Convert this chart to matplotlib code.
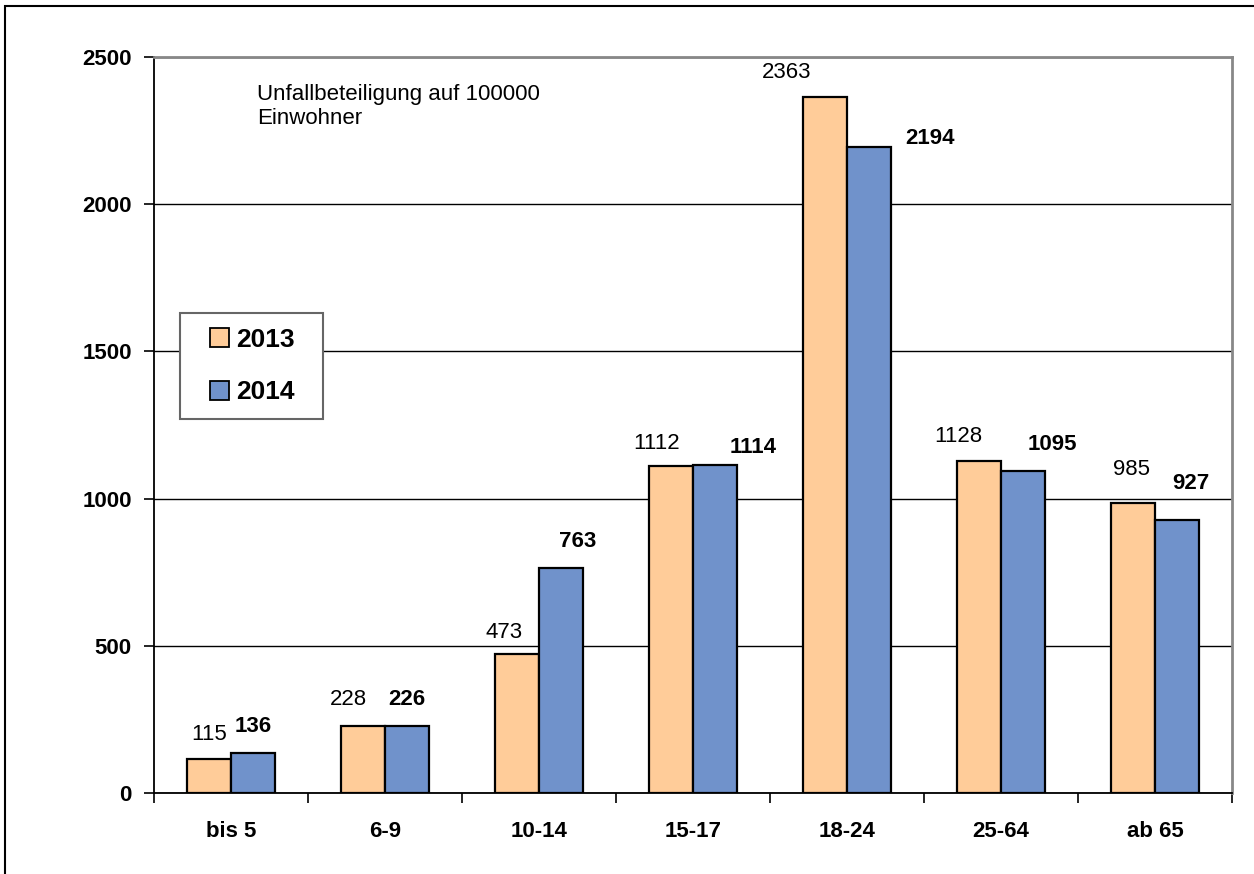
import numpy as np
import matplotlib
matplotlib.use("Agg")
import matplotlib.pyplot as plt
from matplotlib.patches import Rectangle

plt.rcParams['font.family'] = ['Liberation Sans', 'DejaVu Sans']

# data
groups = ['bis 5', '6-9', '10-14', '15-17', '18-24', '25-64', 'ab 65']
v2013 = [115, 228, 473, 1112, 2363, 1128, 985]
v2014 = [136, 226, 763, 1114, 2194, 1095, 927]

# label offsets (pixels) from the top centre of each bar
off2013 = [(0, 25), (-15, 26), (-13, 21), (-14, 22), (-38, 25), (-21, 24), (-2, 34)]
off2014 = [(0, 26), (0, 27), (17, 27), (38, 18), (61, 9), (29, 26), (14, 37)]

c2013 = '#FFCC99'
c2014 = '#7092CB'

fig = plt.figure(figsize=(12.54, 8.74), dpi=100)
ax = fig.add_axes([154/1254, 81/874, 1078/1254, 736/874])

x = np.arange(len(groups))
w = 0.2857
b1 = ax.bar(x - w/2, v2013, w, color=c2013, edgecolor='black', linewidth=1.6, label='2013', zorder=3)
b2 = ax.bar(x + w/2, v2014, w, color=c2014, edgecolor='black', linewidth=1.6, label='2014', zorder=3)

for r, v, o in zip(b1, v2013, off2013):
    ax.annotate(str(v), (r.get_x() + r.get_width()/2, v), xytext=o, textcoords='offset pixels',
                ha='center', va='center', fontsize=16)
for r, v, o in zip(b2, v2014, off2014):
    ax.annotate(str(v), (r.get_x() + r.get_width()/2, v), xytext=o, textcoords='offset pixels',
                ha='center', va='center', fontsize=16, fontweight='bold')

ax.set_xlim(-0.5, len(groups) - 0.5)
ax.set_ylim(0, 2500)
ax.set_yticks(np.arange(0, 2501, 500))
ax.yaxis.grid(True, color='black', linewidth=1.0, zorder=0)
ax.set_axisbelow(True)

# ticks on category boundaries, labels in the middle
ax.set_xticks(np.arange(-0.5, len(groups), 1.0))
ax.set_xticklabels([])
ax.set_xticks(x, minor=True)
ax.set_xticklabels(groups, minor=True, fontsize=16, fontweight='bold')
ax.tick_params(axis='x', which='major', direction='out', length=7, width=1.2)
ax.tick_params(axis='x', which='minor', length=0, pad=20)
ax.tick_params(axis='y', direction='out', length=7, width=1.2, pad=9, labelsize=16)
for t in ax.get_yticklabels():
    t.set_fontweight('bold')

for s in ['left', 'bottom']:
    ax.spines[s].set_color('black')
    ax.spines[s].set_linewidth(1.3)
for s in ['top', 'right']:
    ax.spines[s].set_color('#888888')
    ax.spines[s].set_linewidth(2.0)

ax.text(0.0955, 0.963, 'Unfallbeteiligung auf 100000\nEinwohner', transform=ax.transAxes,
        ha='left', va='top', fontsize=16, linespacing=1.15)

# legend: frame drawn separately so the inner padding can match
ax.add_patch(Rectangle((0.0241, 0.508), 0.1327, 0.144, transform=ax.transAxes,
                       facecolor='white', edgecolor='#666666', linewidth=1.5, zorder=4))
leg = ax.legend(loc='center left', bbox_to_anchor=(0.052, 0.580), frameon=False,
                prop={'weight': 'bold', 'size': 19}, handlelength=0.72, handleheight=0.72,
                handletextpad=0.27, labelspacing=1.08, borderaxespad=0, borderpad=0)
leg.set_zorder(5)
for h in leg.legend_handles:
    h.set_linewidth(1.3)

# outer frame
fig.patches.append(Rectangle((5/1254, -0.1), 1.5, (868/874) + 0.1, transform=fig.transFigure,
                             fill=False, edgecolor='black', linewidth=1.5))

fig.savefig('out.png', dpi=100)
